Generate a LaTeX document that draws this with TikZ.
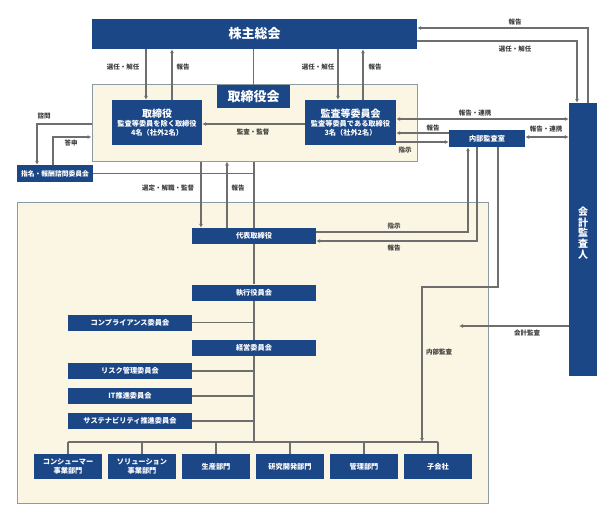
\documentclass[tikz,border=0pt]{standalone}
\usepackage{fontspec}
\setmainfont{Noto Sans CJK JP}
\usetikzlibrary{arrows.meta}
\definecolor{navy}{HTML}{1B4787}
\definecolor{cream}{HTML}{FBF6E3}
\definecolor{frame}{HTML}{8C9AA3}
\definecolor{wire}{HTML}{6E6E6E}
\tikzset{
  box/.style={fill=navy,text=white,inner sep=0pt,align=center,font=\bfseries\fontsize{7.2}{8.4}\selectfont},
  area/.style={fill=cream,draw=frame,line width=1pt},
  arr/.style={draw=wire,line width=1.1pt,-{Latex[length=4pt,width=4pt]}},
  darr/.style={draw=wire,line width=1.1pt,{Latex[length=4pt,width=4pt]}-{Latex[length=4pt,width=4pt]}},
  wireline/.style={draw=wire,line width=1.1pt},
  lbl/.style={font=\bfseries\fontsize{6.5}{7.5}\selectfont,text=black!75,inner sep=1pt}
}
\begin{document}
\begin{tikzpicture}[x=1pt,y=-1pt]
  \useasboundingbox (0,0) rectangle (613,523);
  % areas
  \node[area,minimum width=471pt,minimum height=301pt] (exec) at (252.5,352.5) {};
  \node[area,minimum width=325pt,minimum height=77pt] (bod) at (254.5,122.5) {};
  % top
  \node[box,minimum width=325pt,minimum height=30pt,font=\bfseries\fontsize{13}{15}\selectfont] (kabu) at (254.5,34) {株主総会};
  \node[box,minimum width=73pt,minimum height=23pt,font=\bfseries\fontsize{13}{15}\selectfont] (bodlabel) at (253.5,96.5) {取締役会};
  \node[box,minimum width=90pt,minimum height=45pt] (tori) at (157,122.5)
    {{\fontsize{10}{12}\selectfont 取締役}\\[1pt]監査等委員を除く取締役\\4名（社外2名）};
  \node[box,minimum width=91pt,minimum height=45pt] (kansa) at (350.5,122.5)
    {{\fontsize{10}{12}\selectfont 監査等委員会}\\[1pt]監査等委員である取締役\\3名（社外2名）};
  \node[box,minimum width=76pt,minimum height=17pt,font=\bfseries\fontsize{6.8}{8}\selectfont] (shimei) at (55,173.5) {指名・報酬諮問委員会};
  \node[box,minimum width=76pt,minimum height=17pt] (naibu) at (487,138.5) {内部監査室};
  \node[box,minimum width=28pt,minimum height=273pt] (kaikei) at (583,239.5) {};
  \node[box,font=\bfseries\fontsize{10}{10.6}\selectfont,align=center] (kaikeitext) at (583,233) {会\\計\\監\\査\\人};
  % executive side
  \node[box,minimum width=124pt,minimum height=16pt] (daihyo) at (254,236) {代表取締役};
  \node[box,minimum width=124pt,minimum height=16pt] (shikko) at (254,292.5) {執行役員会};
  \node[box,minimum width=124pt,minimum height=16pt] (comp) at (130,322.5) {コンプライアンス委員会};
  \node[box,minimum width=124pt,minimum height=16pt] (keiei) at (254,348) {経営委員会};
  \node[box,minimum width=124pt,minimum height=16pt] (risk) at (130,371) {リスク管理委員会};
  \node[box,minimum width=124pt,minimum height=16pt] (itsuishin) at (130,396) {IT推進委員会};
  \node[box,minimum width=124pt,minimum height=16pt] (sus) at (130,421) {サステナビリティ推進委員会};
  \node[box,minimum width=68pt,minimum height=25pt] (cons) at (68,466.5) {コンシューマー\\事業部門};
  \node[box,minimum width=68pt,minimum height=25pt] (sol) at (142,466.5) {ソリューション\\事業部門};
  \node[box,minimum width=68pt,minimum height=25pt] (seisan) at (216,466.5) {生産部門};
  \node[box,minimum width=68pt,minimum height=25pt] (kenkyu) at (290,466.5) {研究開発部門};
  \node[box,minimum width=68pt,minimum height=25pt] (kanri) at (364,466.5) {管理部門};
  \node[box,minimum width=68pt,minimum height=25pt] (kogaisha) at (438,466.5) {子会社};
  % guide coordinates
  \coordinate (xa) at (146,0);
  \coordinate (xb) at (172,0);
  \coordinate (xc) at (338,0);
  \coordinate (xd) at (363,0);
  \coordinate (xe) at (201,0);
  \coordinate (xf) at (227,0);
  \coordinate (xg) at (468,0);
  \coordinate (xh) at (477,0);
  \coordinate (xi) at (498,0);
  \coordinate (xk) at (577,0);
  \coordinate (xl) at (588,0);
  \coordinate (ya) at (0,28);
  \coordinate (yb) at (0,41);
  \coordinate (bus) at (0,442);
  \coordinate (shimon) at (37,124);
  \coordinate (toshin) at (53,137);
  \coordinate (naibukansa) at (422,287);
  \coordinate (kaikeikansa) at (459,326);
  % shareholders and board
  \draw[arr] (kabu.south -| xa) -- (tori.north -| xa);
  \draw[arr] (tori.north -| xb) -- (kabu.south -| xb);
  \draw[arr] (kabu.south -| xc) -- (kansa.north -| xc);
  \draw[arr] (kansa.north -| xd) -- (kabu.south -| xd);
  \draw[wireline] (kabu.south -| bodlabel) -- (bodlabel.north);
  \draw[arr] (kansa.west |- 0,124) -- (tori.east |- 0,124);
  % nomination committee
  \draw[arr] (bod.west |- shimon) -- (shimon) -- (shimon |- shimei.north);
  \draw[arr] (shimei.north -| toshin) -- (toshin) -- (bod.west |- toshin);
  \draw[wireline] (bod.south -| daihyo) -- (daihyo.north);
  \draw[wireline] (shimei.east) -- (shimei.east -| daihyo);
  \draw[arr] (bod.south -| xe) -- (daihyo.north -| xe);
  \draw[arr] (daihyo.north -| xf) -- (bod.south -| xf);
  % accounting auditor
  \draw[arr] (kaikei.north -| xl) -- (ya -| xl) -- (kabu.east |- ya);
  \draw[arr] (kabu.east |- yb) -- (yb -| xk) -- (kaikei.north -| xk);
  \draw[darr] (kansa.east |- 0,119) -- (kaikei.west |- 0,119);
  \draw[arr] (naibu.west |- 0,133) -- (kansa.east |- 0,133);
  \draw[arr] (kansa.east |- 0,142) -- (naibu.west |- 0,142);
  \draw[darr] (naibu.east |- 0,137) -- (kaikei.west |- 0,137);
  % internal audit
  \draw[arr] (daihyo.east |- 0,232) -- (xg |- 0,232) -- (naibu.south -| xg);
  \draw[arr] (naibu.south -| xh) -- (xh |- 0,241) -- (daihyo.east |- 0,241);
  \draw[arr] (naibu.south -| xi) -- (xi |- naibukansa) -- (naibukansa) -- (naibukansa |- bus);
  \draw[arr] (kaikei.west |- kaikeikansa) -- (kaikeikansa);
  % executive tree
  \draw[wireline] (daihyo.south) -- (shikko.north);
  \draw[wireline] (shikko.south) -- (keiei.north);
  \draw[wireline] (keiei.south) -- (bus -| keiei);
  \foreach \c in {comp,risk,itsuishin,sus}
    \draw[wireline] (\c.east) -- (\c.east -| daihyo);
  \draw[wireline] (bus -| cons) -- (bus -| kogaisha);
  \foreach \d in {cons,sol,seisan,kenkyu,kanri,kogaisha}
    \draw[wireline] (bus -| \d) -- (\d.north);
  % labels
  \node[lbl] (l1) at (123,67) {選任・解任};
  \node[lbl] (l2) at (183,67) {報告};
  \node[lbl] (l3) at (318,67) {選任・解任};
  \node[lbl] (l4) at (375,67) {報告};
  \node[lbl] (l5) at (253,132) {監査・監督};
  \node[lbl] (l6) at (44,116) {諮問};
  \node[lbl] (l7) at (71,143) {答申};
  \node[lbl] (l8) at (168,188) {選定・解職・監督};
  \node[lbl] (l9) at (238,188) {報告};
  \node[lbl] (l10) at (515,22) {報告};
  \node[lbl] (l11) at (515,49) {選任・解任};
  \node[lbl] (l12) at (475,113) {報告・連携};
  \node[lbl] (l13) at (433,128) {報告};
  \node[lbl] (l14) at (405,150) {指示};
  \node[lbl] (l15) at (546,129) {報告・連携};
  \node[lbl] (l16) at (394,226) {指示};
  \node[lbl] (l17) at (394,248) {報告};
  \node[lbl] (l18) at (439,352) {内部監査};
  \node[lbl] (l19) at (527,333) {会計監査};
\end{tikzpicture}
\end{document}
